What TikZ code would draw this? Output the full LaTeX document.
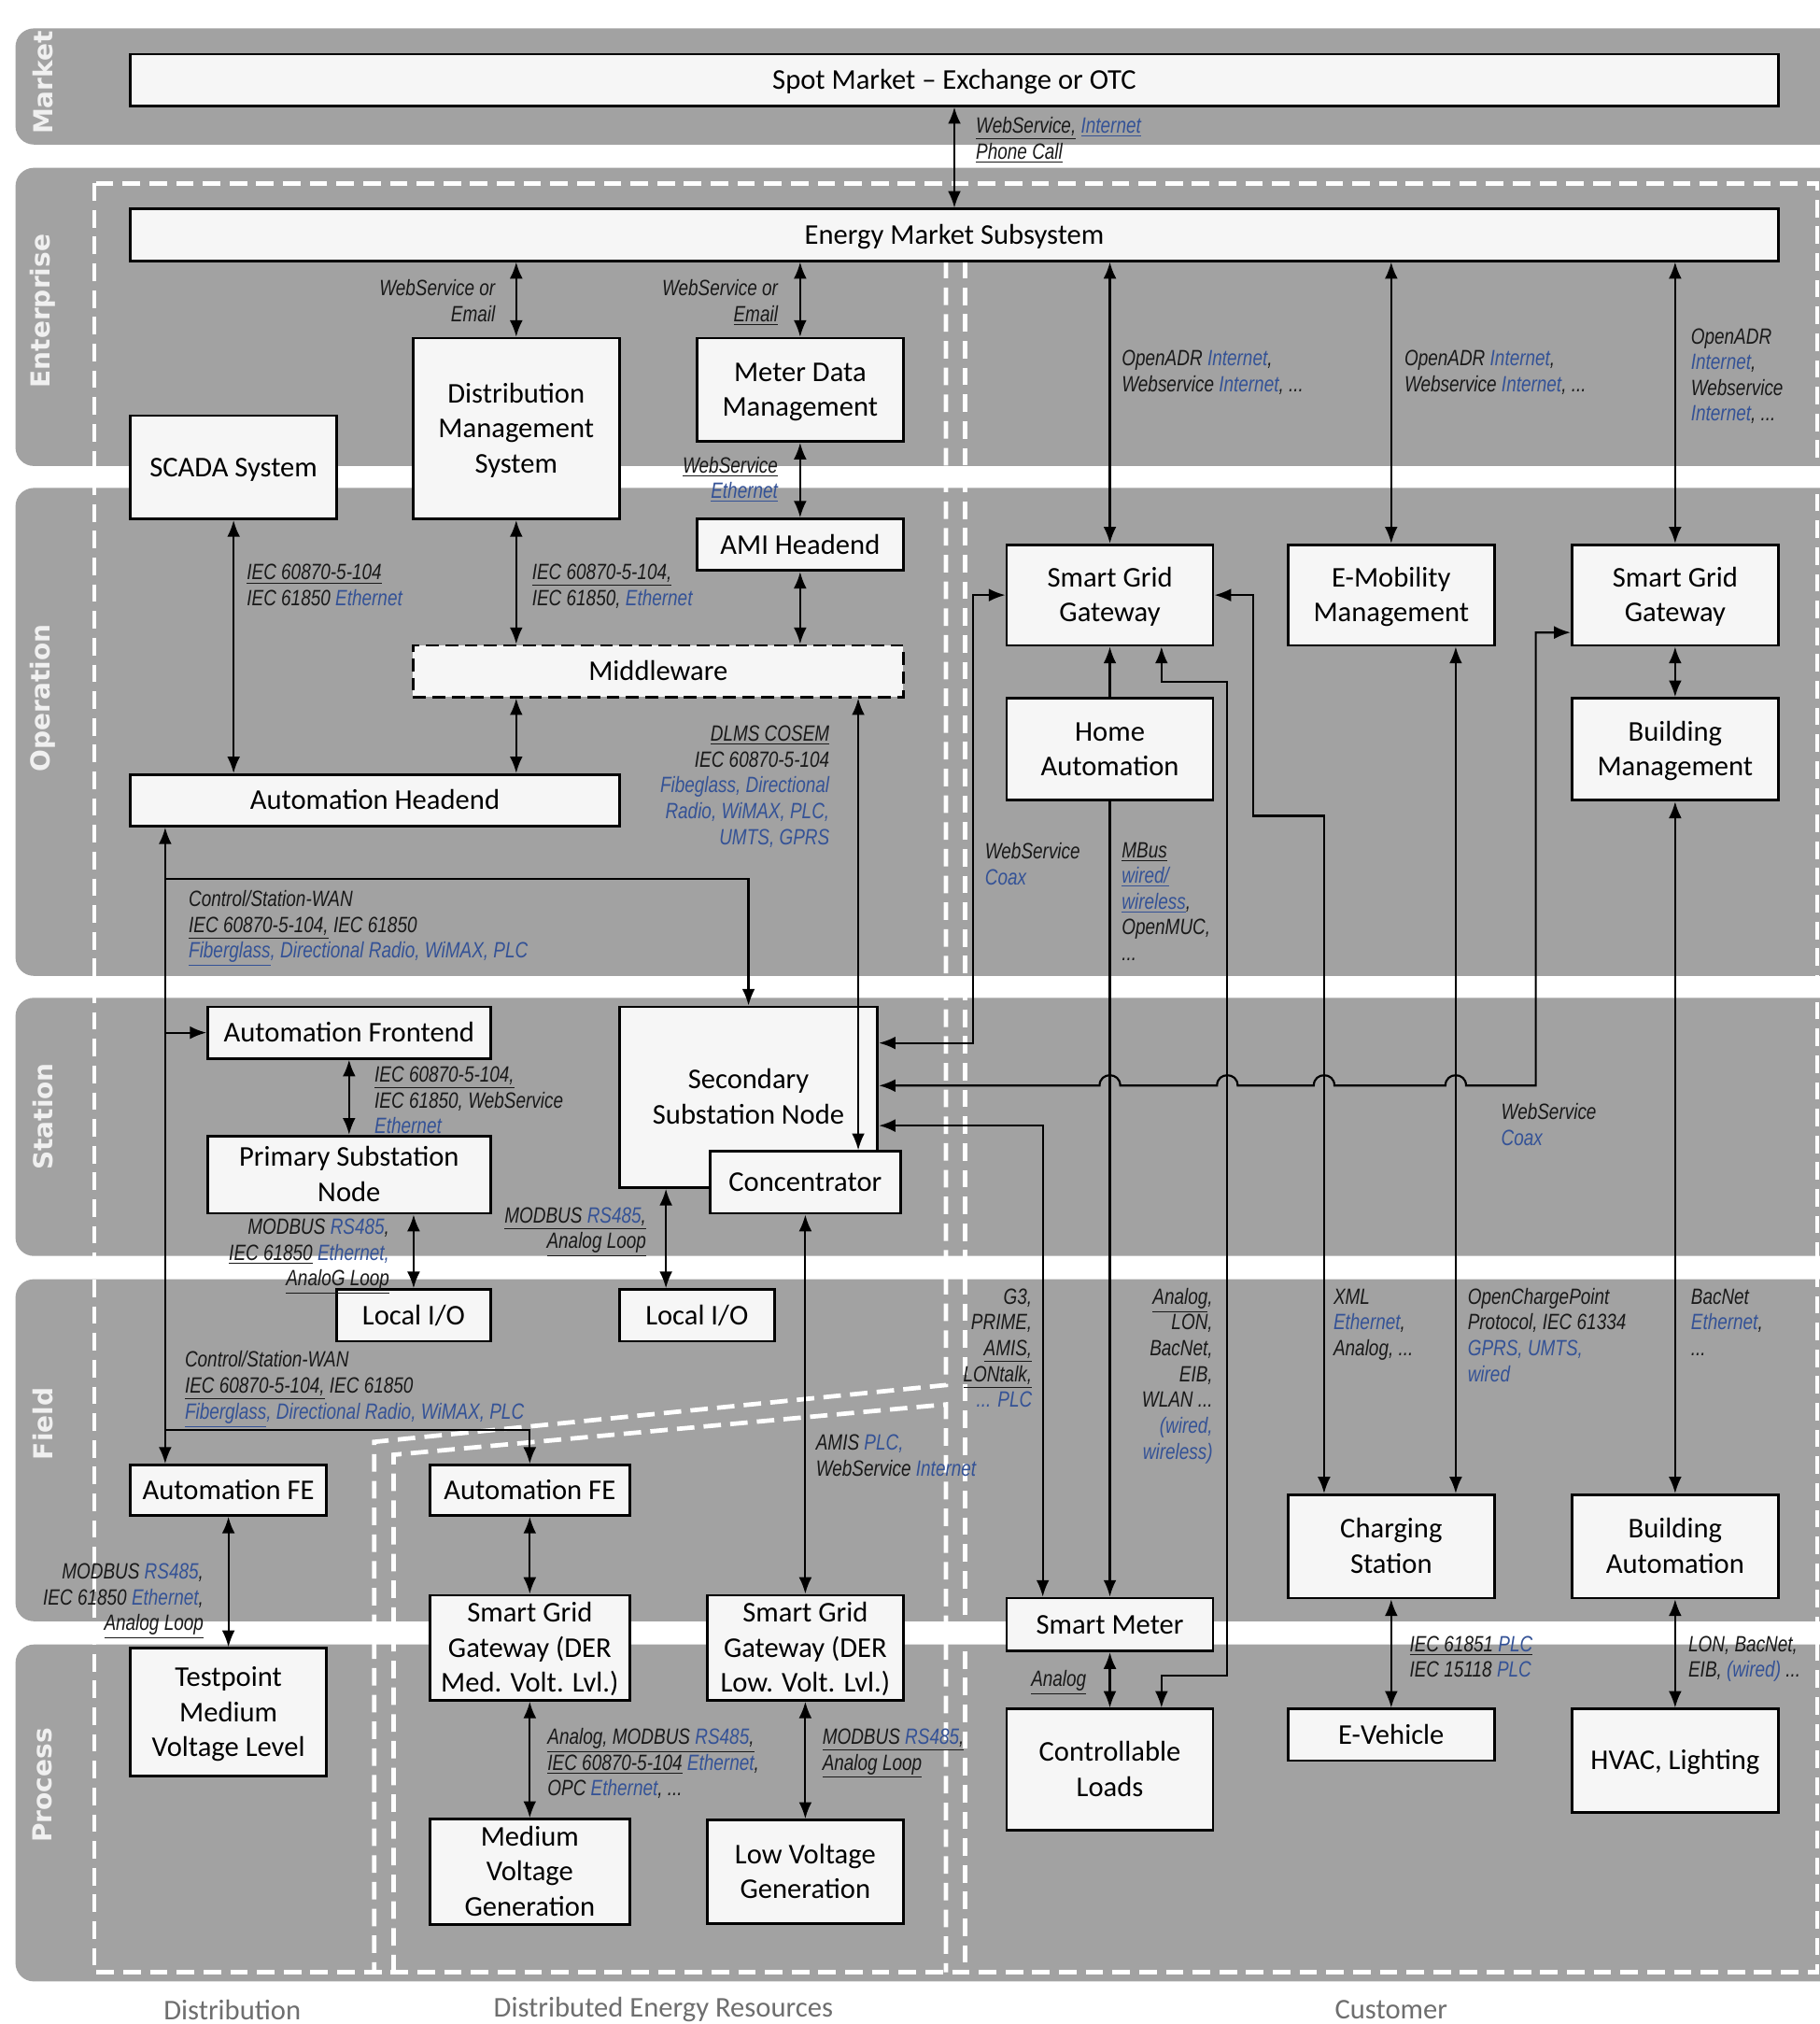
\documentclass[tikz,border=0pt]{standalone}
\usepackage{fontspec}
\setmainfont{Carlito}
\newfontfamily\labfont[FakeStretch=0.8]{Liberation Sans}
\newfontfamily\bandfont{DejaVu Sans}
\usetikzlibrary{arrows.meta}
\definecolor{bandgray}{RGB}{162,162,162}
\definecolor{lblue}{RGB}{52,82,150}
\definecolor{ltext}{RGB}{25,25,25}
\definecolor{boxfill}{RGB}{246,246,246}
\definecolor{captgray}{RGB}{110,110,110}
\newcommand{\myul}[1]{\underline{#1}}
\newcommand{\bl}[1]{\textcolor{lblue}{#1}}
\newcommand{\bt}[1]{\setbox\strutbox\hbox{\vrule height14.5pt depth4.5pt width0pt}\begin{tabular}{@{}c@{}}#1\end{tabular}}
\tikzset{
 box/.style={draw=black, line width=1.4pt, fill=boxfill, inner sep=0pt, font=\fontsize{15.5}{19}\selectfont},
 sz/.style 2 args={minimum width=#1*0.7pt, minimum height=#2*0.7pt},
 band/.style={fill=bandgray, rounded corners=10pt},
 wdash/.style={draw=white, line width=2.4pt, dash pattern=on 9.5pt off 5pt},
 conn/.style={line width=1.1pt, draw=black},
 lbl/.style={inner sep=0pt, font=\labfont\itshape\fontsize{12}{14}\selectfont, text=ltext},
 lblL/.style={lbl, anchor=north west, align=left},
 lblR/.style={lbl, anchor=north east, align=right},
 bandlbl/.style={rotate=90, text=white!94!black, font=\bandfont\bfseries\fontsize{14.2}{17}\selectfont},
 capt/.style={text=captgray, font=\fontsize{15.5}{19}\selectfont},
 >={Latex[length=9pt,width=7pt]},
}
\begin{document}
\begin{tikzpicture}[x=0.7pt,y=-0.7pt]
\useasboundingbox (0,0) rectangle (1410,1568);
% bands
\fill[band] (12,22) rectangle (1440,112);
\fill[band] (12,130) rectangle (1440,361);
\fill[band] (12,378) rectangle (1440,756);
\fill[band] (12,773) rectangle (1440,973);
\fill[band] (12,991) rectangle (1440,1256);
\fill[band] (12,1274) rectangle (1440,1535);
\node[bandlbl] (bMarket) at (33,64) {Market};
\node[bandlbl] (bEnterprise) at (33,241) {Enterprise};
\node[bandlbl] (bOperation) at (33,541) {Operation};
\node[bandlbl] (bStation) at (33,865) {Station};
\node[bandlbl] (bField) at (33,1103) {Field};
\node[bandlbl] (bProcess) at (33,1383) {Process};
% dashed region borders
\draw[wdash] (73,142) rectangle (1408,1528);
\draw[wdash] (733,202) -- (733,1073) -- (290,1117) -- (290,1528);
\draw[wdash] (305,1528) -- (305,1127) -- (733,1088) -- (733,1528);
\draw[wdash] (748,202) -- (748,1528);
% captions
\node[capt] (cDist) at (180,1557) {Distribution};
\node[capt] (cDER) at (514,1557) {Distributed Energy Resources};
\node[capt] (cCust) at (1078,1557) {Customer};
% helper coordinates
\coordinate (x128) at (128,0);
\coordinate (x516) at (516,0);
\coordinate (x665) at (665,0);
\coordinate (x754) at (754,0);
\coordinate (x808) at (808,0);
\coordinate (x900) at (900,0);
\coordinate (x951) at (951,0);
\coordinate (x971) at (971,0);
\coordinate (x1026) at (1026,0);
\coordinate (x1128) at (1128,0);
\coordinate (x1190) at (1190,0);
\coordinate (y681) at (0,681);
\coordinate (y1108) at (0,1108);
\coordinate (y808) at (0,808);
\coordinate (y841) at (0,841);
\coordinate (y872) at (0,872);
\coordinate (y490) at (0,490);
\coordinate (y528) at (0,528);
\coordinate (y632) at (0,632);
\coordinate (y1298) at (0,1298);
% nodes
\node[box, sz={1277}{40}] (spot) at (739.5,62) {\bt{Spot Market – Exchange or OTC}};
\node[box, sz={1277}{40}] (ems) at (739.5,182) {\bt{Energy Market Subsystem}};
\node[box, sz={160}{140}] (dms) at (400,332) {\bt{Distribution\\Management\\System}};
\node[box, sz={160}{80}] (mdm) at (620,302) {\bt{Meter Data\\Management}};
\node[box, sz={160}{80}] (scada) at (181,362) {\bt{SCADA System}};
\node[box, sz={160}{40}] (ami) at (620,422) {\bt{AMI Headend}};
\node[box, dash pattern=on 7pt off 3.5pt, sz={380}{40}] (mw) at (510,520) {\bt{Middleware}};
\node[box, sz={379}{40}] (ah) at (290.5,620) {\bt{Automation Headend}};
\node[box, sz={160}{78}] (sg1) at (860,461) {\bt{Smart Grid\\Gateway}};
\node[box, sz={160}{78}] (emob) at (1078,461) {\bt{E-Mobility\\Management}};
\node[box, sz={160}{78}] (sg2) at (1298,461) {\bt{Smart Grid\\Gateway}};
\node[box, sz={160}{79}] (ha) at (860,580.5) {\bt{Home\\Automation}};
\node[box, sz={160}{79}] (bm) at (1298,580.5) {\bt{Building\\Management}};
\node[box, sz={219}{40}] (af) at (270.5,800) {\bt{Automation Frontend}};
\node[box, sz={200}{140}] (ssn) at (580,850) {\bt{Secondary\\Substation Node}};
\node[box, sz={148}{48}] (conc) at (624,916) {\bt{Concentrator}};
\node[box, sz={219}{60}] (psn) at (270.5,910) {\bt{Primary Substation\\Node}};
\node[box, sz={119}{40}] (lio1) at (320.5,1019) {\bt{Local I/O}};
\node[box, sz={120}{40}] (lio2) at (540,1019) {\bt{Local I/O}};
\node[box, sz={152}{39}] (afe1) at (177,1154.5) {\bt{Automation FE}};
\node[box, sz={155}{39}] (afe2) at (410.5,1154.5) {\bt{Automation FE}};
\node[box, sz={152}{99}] (tp) at (177,1326.5) {\bt{Testpoint\\Medium\\Voltage Level}};
\node[box, sz={155}{79}] (sgm) at (410.5,1276.5) {\bt{Smart Grid\\Gateway (DER\\Med. Volt. Lvl.)}};
\node[box, sz={152}{79}] (sgl) at (624,1276.5) {\bt{Smart Grid\\Gateway (DER\\Low. Volt. Lvl.)}};
\node[box, sz={155}{80}] (mvg) at (410.5,1450) {\bt{Medium\\Voltage\\Generation}};
\node[box, sz={152}{80}] (lvg) at (624,1450) {\bt{Low Voltage\\Generation}};
\node[box, sz={160}{41}] (sm) at (860,1258.5) {\bt{Smart Meter}};
\node[box, sz={160}{94}] (cl) at (860,1371) {\bt{Controllable\\Loads}};
\node[box, sz={160}{80}] (cs) at (1078,1198) {\bt{Charging\\Station}};
\node[box, sz={160}{80}] (ba) at (1298,1198) {\bt{Building\\Automation}};
\node[box, sz={160}{40}] (ev) at (1078,1344) {\bt{E-Vehicle}};
\node[box, sz={160}{80}] (hvac) at (1298,1364) {\bt{HVAC, Lighting}};
% connectors
\draw[conn,<->] (spot.south) -- (ems.north);
\draw[conn,<->] (dms.north |- ems.south) -- (dms.north);
\draw[conn,<->] (mdm.north |- ems.south) -- (mdm.north);
\draw[conn,<->] (mdm.south) -- (ami.north);
\draw[conn,<->] (scada.south) -- (scada.south |- ah.north);
\draw[conn,<->] (dms.south) -- (dms.south |- mw.north);
\draw[conn,<->] (ami.south) -- (ami.south |- mw.north);
\draw[conn,<->] (dms.south |- mw.south) -- (dms.south |- ah.north);
\draw[conn,<->] (x665 |- mw.south) -- (x665 |- conc.north);
\draw[conn,<->] (x128 |- ah.south) -- (x128 |- afe1.north);
\draw[conn,->] (x128 |- y681) -| (ssn.north);
\draw[conn,->] (x128 |- af.west) -- (af.west);
\draw[conn,->] (x128 |- y1108) -| (afe2.north);
\draw[conn,<->] (af.south) -- (psn.north);
\draw[conn,<->] (lio1.north |- psn.south) -- (lio1.north);
\draw[conn,<->] (x516 |- ssn.south) -- (x516 |- lio2.north);
\draw[conn,<->] (conc.south) -- (sgl.north);
\draw[conn,<->] (afe1.south) -- (tp.north);
\draw[conn,<->] (afe2.south) -- (sgm.north);
\draw[conn,<->] (sgm.south) -- (mvg.north);
\draw[conn,<->] (sgl.south) -- (lvg.north);
\draw[conn,<->] (sg1.north |- ems.south) -- (sg1.north);
\draw[conn,<->] (emob.north |- ems.south) -- (emob.north);
\draw[conn,<->] (sg2.north |- ems.south) -- (sg2.north);
\draw[conn,->] (ha.north) -- (sg1.south);
\draw[conn,->] (ha.south) -- (sm.north);
\draw[conn,<->] (sm.south) -- (cl.north);
\draw[conn,<->] (x900 |- sg1.south) -- (x900 |- y528) -- (x951 |- y528) -- (x951 |- y1298) -- (x900 |- y1298) -- (x900 |- cl.north);
\draw[conn,<->] (sg1.east) -- (x971 |- sg1.east) -- (x971 |- y632) -- (x1026 |- y632) -- (x1026 |- cs.north);
\draw[conn,<->] (x1128 |- emob.south) -- (x1128 |- cs.north);
\draw[conn,<->] (sg2.south) -- (bm.north);
\draw[conn,<->] (bm.south) -- (ba.north);
\draw[conn,<->] (cs.south) -- (ev.north);
\draw[conn,<->] (ba.south) -- (hvac.north);
\draw[conn,<->] (ssn.east |- y808) -- (x754 |- y808) -- (x754 |- sg1.west) -- (sg1.west);
\draw[conn,<->] (ssn.east |- y872) -- (x808 |- y872) -- (x808 |- sm.north);
\draw[conn,<->] (ssn.east |- y841) -- (852,841) .. controls (852,830.3) and (868,830.3) .. (868,841)
  -- (943,841) .. controls (943,830.3) and (959,830.3) .. (959,841)
  -- (1018,841) .. controls (1018,830.3) and (1034,830.3) .. (1034,841)
  -- (1120,841) .. controls (1120,830.3) and (1136,830.3) .. (1136,841)
  -- (x1190 |- y841) -- (x1190 |- y490) -- (sg2.west |- y490);
% labels
\node[lblL] (l1) at (756,89) {\strut\myul{WebService,} \bl{\myul{Internet}}\\\myul{Phone Call}};
\node[lblR] (l2) at (384,215) {\strut WebService or\\Email};
\node[lblR] (l3) at (603,215) {\strut WebService or\\\myul{Email}};
\node[lblR] (l4) at (603,352) {\strut\myul{WebService}\\\bl{\myul{Ethernet}}};
\node[lblL] (l5) at (191,435) {\strut\myul{IEC 60870-5-104}\\IEC 61850 \bl{Ethernet}};
\node[lblL] (l6) at (412,435) {\strut\myul{IEC 60870-5-104,}\\IEC 61850, \bl{Ethernet}};
\node[lblR] (l7) at (643,560) {\strut\myul{DLMS COSEM}\\IEC 60870-5-104\\\bl{Fibeglass, Directional}\\\bl{Radio, WiMAX, PLC,}\\\bl{UMTS, GPRS}};
\node[lblL] (l8) at (146,688) {\strut Control/Station-WAN\\\myul{IEC 60870-5-104,} IEC 61850\\\bl{\myul{Fiberglass}, Directional Radio, WiMAX, PLC}};
\node[lblL] (l9) at (290,824) {\strut\myul{IEC 60870-5-104,}\\IEC 61850, WebService\\\bl{Ethernet}};
\node[lblR] (l10) at (302,942) {\strut MODBUS \bl{RS485},\\\myul{IEC 61850} \bl{Ethernet,}\\\myul{AnaloG Loop}};
\node[lblR] (l11) at (501,933) {\strut\myul{MODBUS \bl{RS485},}\\\myul{Analog Loop}};
\node[lblL] (l12) at (143,1045) {\strut Control/Station-WAN\\\myul{IEC 60870-5-104,} IEC 61850\\\bl{\myul{Fiberglass}, Directional Radio, WiMAX, PLC}};
\node[lblL] (l13) at (632,1109) {\strut AMIS \bl{PLC,}\\WebService \bl{Internet}};
\node[lblR] (l14) at (158,1209) {\strut MODBUS \bl{RS485},\\IEC 61850 \bl{Ethernet},\\\myul{Analog Loop}};
\node[lblL] (l15) at (424,1337) {\strut\myul{Analog, MODBUS \bl{RS485},}\\\myul{IEC 60870-5-104} \bl{Ethernet},\\OPC \bl{Ethernet}, ...};
\node[lblL] (l16) at (637,1337) {\strut\myul{MODBUS \bl{RS485},}\\\myul{Analog Loop}};
\node[lblL] (l17) at (869,269) {\strut OpenADR \bl{Internet},\\Webservice \bl{Internet}, ...};
\node[lblL] (l18) at (1088,269) {\strut OpenADR \bl{Internet},\\Webservice \bl{Internet}, ...};
\node[lblL] (l19) at (1310,252) {\strut OpenADR\\\bl{Internet},\\Webservice\\\bl{Internet}, ...};
\node[lblL] (l20) at (763,651) {\strut WebService\\\bl{Coax}};
\node[lblL] (l21) at (869,650) {\strut\myul{MBus}\\\bl{\myul{wired/}}\\\bl{\myul{wireless}},\\OpenMUC,\\...};
\node[lblR] (l22) at (800,996) {\strut G3,\\PRIME,\\\myul{AMIS,}\\\myul{LONtalk,}\\\bl{... PLC}};
\node[lblR] (l23) at (940,996) {\strut\myul{Analog},\\LON,\\BacNet,\\EIB,\\WLAN ...\\\bl{(wired,}\\\bl{wireless)}};
\node[lblL] (l24) at (1033,996) {\strut XML\\\bl{Ethernet},\\Analog, ...};
\node[lblL] (l25) at (1137,996) {\strut OpenChargePoint\\Protocol, IEC 61334\\\bl{GPRS, UMTS,}\\\bl{wired}};
\node[lblL] (l26) at (1310,996) {\strut BacNet\\\bl{Ethernet},\\...};
\node[lblL] (l27) at (1163,853) {\strut WebService\\\bl{Coax}};
\node[lblR] (l28) at (842,1292) {\strut\myul{Analog}};
\node[lblL] (l29) at (1092,1265) {\strut\myul{IEC 61851 \bl{PLC}}\\IEC 15118 \bl{PLC}};
\node[lblL] (l30) at (1308,1265) {\strut LON, BacNet,\\EIB, \bl{(wired)} ...};
\end{tikzpicture}
\end{document}
